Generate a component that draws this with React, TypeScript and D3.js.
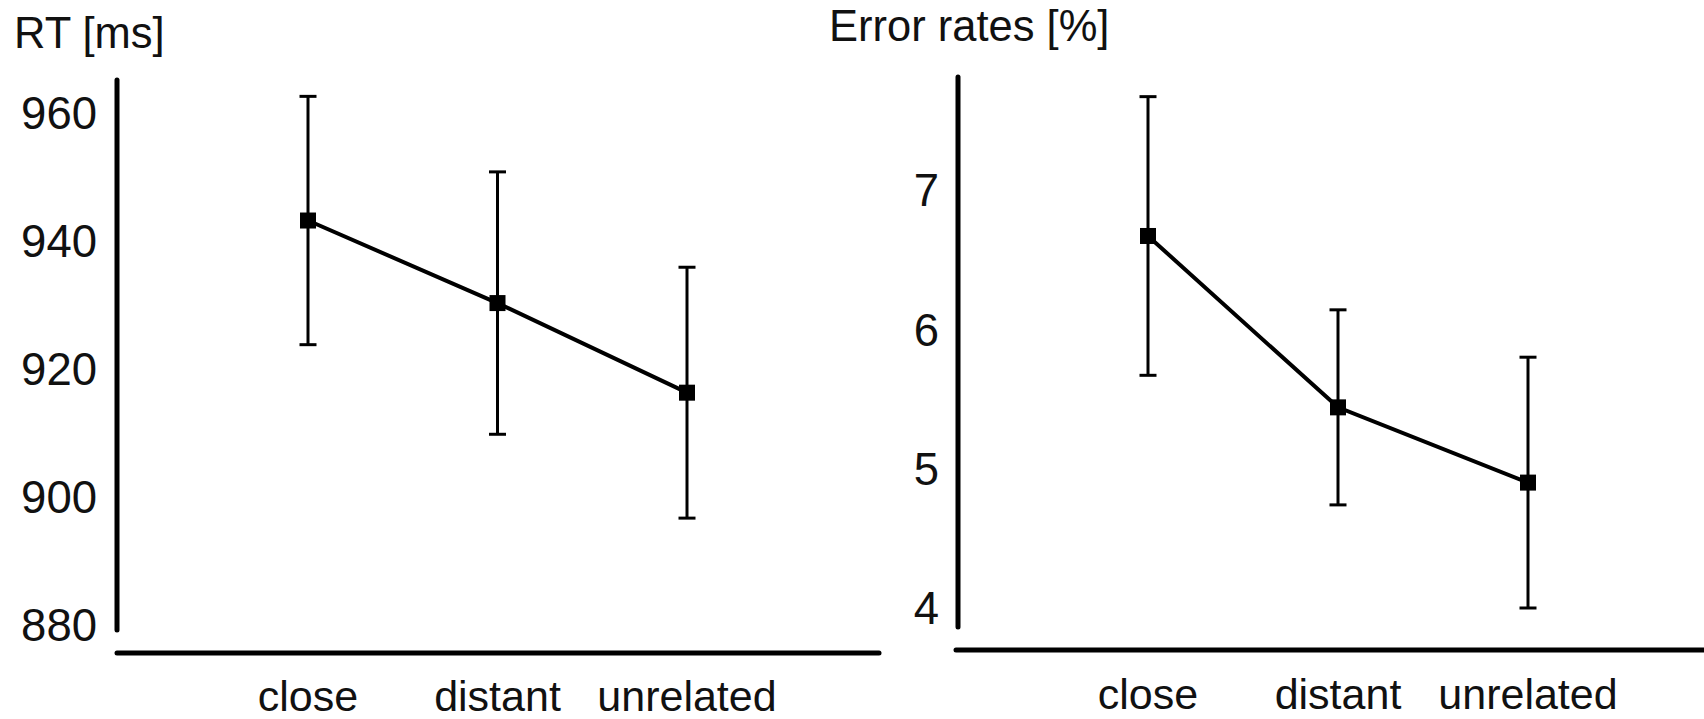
import React from 'react';
import * as d3 from 'd3';

// shared categories
const conditions = ['close', 'distant', 'unrelated'];

// left panel: reaction times
const rtMeans = [943.2, 930.3, 916.3];
const rtErrors = [19.4, 20.5, 19.6];
const rtTicks = [880, 900, 920, 940, 960];

// right panel: error rates
const errMeans = [6.67, 5.44, 4.9];
const errErrors = [1.0, 0.7, 0.9];
const errTicks = [4, 5, 6, 7];

const FONT = '"Liberation Sans", Arial, sans-serif';

type PanelProps = {
  title: string;
  titleX: number;
  titleY: number;
  means: number[];
  errors: number[];
  ticks: number[];
  domain: [number, number];
  yRange: [number, number];
  xRange: [number, number];
  axisX: number;
  axisTop: number;
  axisBottom: number;
  baseY: number;
  baseLeft: number;
  baseRight: number;
  labelX: number;
  catY: number;
};

const Panel = (p: PanelProps) => {
  const x = d3.scalePoint<string>().domain(conditions).range(p.xRange);
  const y = d3.scaleLinear().domain(p.domain).range(p.yRange);

  const pts = conditions.map((c, i) => ({ c, m: p.means[i], e: p.errors[i] }));
  const line = d3
    .line<{ c: string; m: number }>()
    .x((d) => x(d.c)!)
    .y((d) => y(d.m));

  const cap = 8.5;
  const box = 16;

  return (
    <g>
      <text x={p.titleX} y={p.titleY} fontSize={43.5} fontFamily={FONT} fill="#111">
        {p.title}
      </text>

      {/* axes */}
      <line
        x1={p.axisX}
        x2={p.axisX}
        y1={p.axisTop}
        y2={p.axisBottom}
        stroke="#000"
        strokeWidth={5}
        strokeLinecap="round"
      />
      <line
        x1={p.baseLeft}
        x2={p.baseRight}
        y1={p.baseY}
        y2={p.baseY}
        stroke="#000"
        strokeWidth={5}
        strokeLinecap="round"
      />

      {p.ticks.map((t) => (
        <text
          key={t}
          x={p.labelX}
          y={y(t)}
          dy="0.36em"
          textAnchor="end"
          fontSize={45.5}
          fontFamily={FONT}
          fill="#111"
        >
          {t}
        </text>
      ))}

      {conditions.map((c) => (
        <text
          key={c}
          x={x(c)}
          y={p.catY}
          textAnchor="middle"
          fontSize={43}
          fontFamily={FONT}
          fill="#111"
        >
          {c}
        </text>
      ))}

      {/* error bars */}
      {pts.map((d) => {
        const cx = x(d.c)!;
        const top = y(d.m + d.e);
        const bot = y(d.m - d.e);
        return (
          <g key={d.c} stroke="#000" strokeWidth={3}>
            <line x1={cx} x2={cx} y1={top} y2={bot} />
            <line x1={cx - cap} x2={cx + cap} y1={top} y2={top} />
            <line x1={cx - cap} x2={cx + cap} y1={bot} y2={bot} />
          </g>
        );
      })}

      <path d={line(pts) || ''} fill="none" stroke="#000" strokeWidth={4} />

      {pts.map((d) => (
        <rect
          key={d.c}
          x={x(d.c)! - box / 2}
          y={y(d.m) - box / 2}
          width={box}
          height={box}
          fill="#000"
        />
      ))}
    </g>
  );
};

export default function App() {
  return (
    <svg
      width={1704}
      height={719}
      style={{ position: 'absolute', left: 0, top: 0, background: '#fff' }}
    >
      <rect width={1704} height={719} fill="#fff" />
      <Panel
        title="RT [ms]"
        titleX={14}
        titleY={48}
        means={rtMeans}
        errors={rtErrors}
        ticks={rtTicks}
        domain={[880, 960]}
        yRange={[625, 113]}
        xRange={[308, 687]}
        axisX={117}
        axisTop={80}
        axisBottom={630}
        baseY={653}
        baseLeft={117}
        baseRight={879}
        labelX={97}
        catY={711}
      />
      <Panel
        title="Error rates [%]"
        titleX={829}
        titleY={41}
        means={errMeans}
        errors={errErrors}
        ticks={errTicks}
        domain={[4, 7]}
        yRange={[608, 190]}
        xRange={[1148, 1528]}
        axisX={958}
        axisTop={77}
        axisBottom={627}
        baseY={650}
        baseLeft={956}
        baseRight={1710}
        labelX={939}
        catY={709}
      />
    </svg>
  );
}
